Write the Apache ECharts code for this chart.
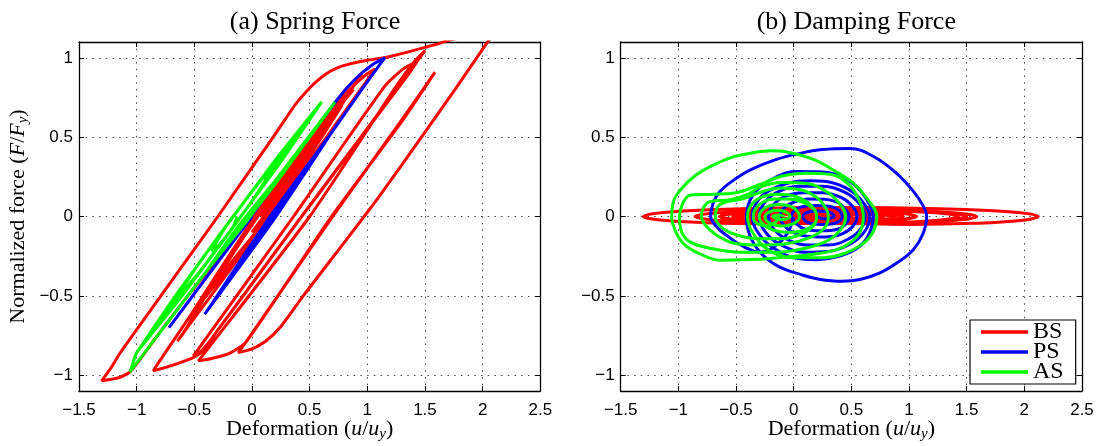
<!DOCTYPE html>
<html>
<head>
<meta charset="utf-8">
<script src="https://cdn.jsdelivr.net/npm/echarts@6/dist/echarts.min.js"></script>
<style>
html,body{margin:0;padding:0;background:#fff;}
#chart{width:1099px;height:446px;}
</style>
</head>
<body>
<div id="chart"></div>
<script>
// ---- axis settings / labels ----
const xRange = [-1.5, 2.5];
const yRange = [-1.1, 1.1];
const panelTitles = ['(a) Spring Force', '(b) Damping Force'];
const seriesNames = ['BS', 'PS', 'AS'];
const seriesColors = ['#ff0000', '#0000ff', '#00ff00'];

// ---- (a) spring force : [deformation, force] ----
const bsSpring = [
[0.08,0.0],[0.50,0.40],[0.80,0.73],[0.88,0.80],[0.80,0.73],[0.185,0.168],[-0.557,-0.50],[-0.85,-0.78],[-0.98,-0.91],[-1.058,-0.979],[-1.145,-1.014],[-1.304,-1.036],
[-1.22,-0.952],[-1.145,-0.862],[-0.79,-0.50],[-0.296,0.0],[0.185,0.502],[0.29,0.615],[0.38,0.71],[0.474,0.79],[0.56,0.852],[0.648,0.902],[0.75,0.94],[0.85,0.962],[1.0,0.985],[1.168,1.004],[1.62,1.09],[1.70,1.11],[2.12,1.17],
[2.035,1.092],[1.775,0.816],[1.081,0.105],[0.445,-0.50],[0.243,-0.70],[0.12,-0.785],[0.0,-0.835],[-0.119,-0.858],
[-0.06,-0.80],[0.70,0.0],[1.30,0.61],[1.587,0.91],
[1.30,0.60],[0.68,-0.01],[-0.05,-0.79],[-0.2,-0.865],[-0.35,-0.895],[-0.465,-0.91],
[-0.40,-0.85],[0.50,0.0],[1.25,0.82],[1.40,0.97],[1.50,1.046],
[1.44,0.986],[0.43,0.0],[-0.35,-0.77],[-0.45,-0.855],[-0.509,-0.879],
[-0.45,-0.82],[0.36,0.0],[1.15,0.82],[1.32,0.935],[1.428,0.973],
[1.36,0.90],[0.40,-0.03],[-0.30,-0.72],[-0.42,-0.845],[-0.509,-0.889],[-0.70,-0.94],[-0.856,-0.973],
[-0.80,-0.91],[0.05,0.0],[0.80,0.76],[0.98,0.89],[1.067,0.93],
[1.0,0.86],[0.15,0.0],[-0.55,-0.69],[-0.647,-0.785],
[-0.60,-0.74],[0.02,0.0],[0.80,0.79],[0.951,0.90],
[0.88,0.82],[0.15,0.0],[-0.53,-0.62],
[0.03,0.0],[0.78,0.70],
[0.15,0.0],[-0.43,-0.52],
[0.04,0.0],[0.65,0.55],
[0.14,0.0],[-0.33,-0.42],
[0.05,0.0],[0.50,0.40],
[0.12,0.0],[0.0,-0.10],
[0.30,0.20]
];
const psSpring = [
[0.0,0.0],[-0.36,-0.35],[-0.72,-0.70],[-0.35,-0.34],[0.0,0.01],[0.735,0.733],[0.90,0.87],[1.05,0.96],[1.153,1.0],
[1.10,0.95],[0.965,0.814],[0.243,0.063],[-0.41,-0.616],
[0.165,-0.044],[0.69,0.528],
[0.14,-0.018],[-0.36,-0.564],
[0.175,-0.034],[0.66,0.496],
[0.155,-0.003],[-0.30,-0.502],
[0.18,-0.024],[0.62,0.455],
[0.18,0.018],[-0.22,-0.419],
[0.185,-0.018],[0.55,0.382],
[0.20,0.034],[-0.12,-0.315],
[0.195,-0.003],[0.48,0.309],
[0.22,0.049],[-0.02,-0.21],
[0.21,0.018],[0.42,0.247],
[0.245,0.07],[0.08,-0.107],
[0.225,0.034],[0.35,0.174],
[0.2,0.018]
];
const asSpring = [
[-0.13,0.0],[-0.16,-0.06],[-0.27,-0.168],[-0.35,-0.218],
[-0.2425,-0.082],[0.0325,0.188],[0.2,0.324],
[0.01,0.107],[-0.43,-0.326],[-0.68,-0.543],
[-0.465,-0.301],[0.025,0.181],[0.3,0.423],
[0.055,0.152],[-0.495,-0.39],[-0.80,-0.661],
[-0.5175,-0.353],[0.1075,0.262],[0.45,0.570],
[0.12,0.216],[-0.60,-0.494],[-0.99,-0.848],
[-0.6215,-0.456],[0.1755,0.33],[0.604,0.722],
[0.233,0.327],[-0.569,-0.463],[-1.0,-0.858],[-1.03,-0.92],[-1.058,-0.979],
[-0.9,-0.828],[0.72,0.721],
[0.18,0.185],[-0.40,-0.35],[-0.12,-0.063],[0.2,0.224],[-0.03,-0.015],[-0.30,-0.254],[0.05,0.08],[-0.25,-0.207],[-0.03,0.004],[-0.18,-0.14],[-0.08,-0.044]
];

// ---- (b) damping force : [deformation, force] ----
const bsDamping = [
[0.08,0],[0.14,0.007],[0.28,0.012],[0.48,0.014],[0.68,0.012],[0.82,0.007],[0.88,0],
[0.734,-0.0225],[0.334,-0.039],[-0.212,-0.045],[-0.758,-0.039],[-1.158,-0.0225],[-1.304,0],
[-1.075,0.0285],[-0.448,0.049],[0.408,0.057],[1.264,0.049],[1.891,0.0285],[2.12,0],
[1.97,-0.025],[1.56,-0.043],[1.0,-0.05],[0.441,-0.043],[0.031,-0.025],[-0.119,0],
[-0.005,0.018],[0.3075,0.031],[0.734,0.036],[1.1605,0.031],[1.473,0.018],[1.587,0],
[1.45,-0.021],[1.074,-0.036],[0.561,-0.042],[0.048,-0.036],[-0.328,-0.021],[-0.465,0],
[-0.333,0.02],[0.026,0.035],[0.518,0.04],[1.009,0.035],[1.368,0.02],[1.5,0],
[1.365,-0.02],[0.998,-0.035],[0.496,-0.04],[-0.007,-0.035],[-0.374,-0.02],[-0.509,0],
[-0.379,0.019],[-0.025,0.033],[0.46,0.038],[0.944,0.033],[1.298,0.019],[1.428,0],
[1.275,-0.022],[0.857,-0.038],[0.286,-0.044],[-0.285,-0.038],[-0.703,-0.022],[-0.856,0],
[-0.727,0.019],[-0.375,0.033],[0.1055,0.038],[0.586,0.033],[0.938,0.019],[1.067,0],
[0.952,-0.017],[0.6385,-0.029],[0.21,-0.034],[-0.2185,-0.029],[-0.532,-0.017],[-0.647,0],
[-0.54,0.015],[-0.2475,0.026],[0.152,0.03],[0.5515,0.026],[0.844,0.015],[0.951,0],
[0.854,-0.0135],[0.586,-0.023],[0.21,-0.027],[-0.165,-0.023],[-0.432,-0.0135],[-0.53,0],
[-0.444,0.012],[-0.2,0.021],[0.125,0.024],[0.45,0.021],[0.692,0.012],[0.78,0],
[0.699,-0.0105],[0.477,-0.018],[0.175,-0.021],[-0.127,-0.018],[-0.349,-0.0105],[-0.43,0],
[-0.358,0.009],[-0.16,0.0156],[0.11,0.018],[0.38,0.0156],[0.578,0.009],[0.65,0],
[0.584,-0.008],[0.405,-0.014],[0.16,-0.016],[-0.085,-0.014],[-0.264,-0.008],[-0.33,0],
[-0.274,0.0065],[-0.122,0.011],[0.085,0.013],[0.292,0.011],[0.444,0.0065],[0.5,0],
[0.4665,-0.004],[0.375,-0.007],[0.25,-0.008],[0.125,-0.007],[0.0335,-0.004],[0,0],
[0.02,0.0025],[0.075,0.0043],[0.15,0.005],[0.225,0.0043],[0.28,0.0025],[0.3,0]
];
const psDamping = [
[0,0],[-0.05,-0.10],[-0.15,-0.18],[-0.29,-0.225],[-0.437,-0.188],[-0.58,-0.12],[-0.67,-0.063],[-0.72,0],
[-0.70,0.08],[-0.64,0.157],[-0.5,0.24],[-0.38,0.293],[-0.15,0.36],[0.055,0.398],[0.25,0.422],[0.488,0.429],[0.70,0.375],[0.892,0.272],[1.037,0.16],[1.12,0.07],[1.153,0],
[1.12,-0.11],[1.037,-0.209],[0.90,-0.29],[0.748,-0.355],[0.575,-0.397],[0.415,-0.408],[0.22,-0.395],[0.081,-0.37],[-0.133,-0.314],[-0.285,-0.23],[-0.38,-0.12],[-0.41,0],
[-0.38,0.1],[-0.30,0.18],[-0.15,0.25],[0.02,0.283],[0.2,0.282],[0.37,0.265],[0.52,0.205],[0.63,0.11],[0.69,0],
[0.66,-0.1],[0.57,-0.19],[0.40,-0.25],[0.2,-0.272],[0.0,-0.26],[-0.15,-0.21],[-0.28,-0.13],[-0.36,0],
[-0.32,0.09],[-0.22,0.16],[-0.05,0.21],[0.15,0.225],[0.35,0.21],[0.52,0.15],[0.62,0.07],[0.66,0],
[0.62,-0.09],[0.5,-0.17],[0.3,-0.22],[0.1,-0.225],[-0.08,-0.19],[-0.22,-0.12],[-0.30,0],
[-0.26,0.08],[-0.15,0.15],[0.05,0.19],[0.25,0.19],[0.45,0.15],[0.57,0.08],[0.62,0],
[0.585,-0.075],[0.48,-0.14],[0.3,-0.18],[0.12,-0.18],[-0.04,-0.15],[-0.16,-0.09],[-0.22,0],
[-0.18,0.07],[-0.08,0.125],[0.08,0.15],[0.25,0.15],[0.41,0.12],[0.51,0.065],[0.55,0],
[0.515,-0.06],[0.42,-0.11],[0.27,-0.13],[0.11,-0.125],[-0.02,-0.095],[-0.09,-0.05],[-0.12,0],
[-0.09,0.05],[0.0,0.09],[0.13,0.11],[0.27,0.108],[0.39,0.085],[0.45,0.045],[0.48,0],
[0.455,-0.045],[0.38,-0.08],[0.24,-0.09],[0.1,-0.08],[0.02,-0.045],[-0.02,0],
[0.01,0.04],[0.09,0.065],[0.2,0.07],[0.31,0.065],[0.39,0.04],[0.42,0],
[0.395,-0.03],[0.33,-0.047],[0.25,-0.05],[0.17,-0.047],[0.105,-0.03],[0.08,0],
[0.1,0.02],[0.15,0.032],[0.215,0.035],[0.28,0.032],[0.33,0.02],[0.35,0],
[0.31,-0.012],[0.275,-0.015],[0.24,-0.012],[0.2,0]
];
const asDamping = [
[-0.13,0],[-0.15,-0.03],[-0.2,-0.055],[-0.25,-0.06],[-0.3,-0.05],[-0.34,-0.03],[-0.35,0],
[-0.33,0.05],[-0.27,0.09],[-0.17,0.11],[-0.05,0.11],[0.08,0.09],[0.17,0.05],[0.2,0],
[0.17,-0.06],[0.07,-0.11],[-0.1,-0.14],[-0.3,-0.14],[-0.5,-0.115],[-0.63,-0.065],[-0.68,0],
[-0.66,0.06],[-0.6,0.09],[-0.45,0.11],[-0.3,0.15],[-0.12,0.18],[0.05,0.17],[0.2,0.12],[0.28,0.05],[0.3,0],
[0.27,-0.07],[0.15,-0.13],[-0.05,-0.17],[-0.3,-0.18],[-0.526,-0.167],[-0.65,-0.126],[-0.726,-0.084],[-0.78,-0.04],[-0.80,0],
[-0.78,0.06],[-0.72,0.095],[-0.55,0.105],[-0.40,0.14],[-0.285,0.188],[-0.1,0.215],[0.1,0.21],[0.3,0.15],[0.42,0.06],[0.45,0],
[0.42,-0.07],[0.3,-0.15],[0.1,-0.2],[-0.15,-0.225],[-0.45,-0.225],[-0.743,-0.197],[-0.9,-0.16],[-0.97,-0.1],[-0.99,0],
[-0.97,0.07],[-0.93,0.12],[-0.894,0.136],[-0.7,0.14],[-0.5,0.15],[-0.3,0.2],[-0.1,0.255],[0.1,0.272],[0.32,0.265],[0.48,0.2],[0.57,0.1],[0.604,0],
[0.58,-0.09],[0.5,-0.16],[0.373,-0.209],[0.15,-0.24],[-0.06,-0.255],[-0.3,-0.27],[-0.64,-0.275],[-0.813,-0.235],[-0.95,-0.175],[-1.02,-0.1],[-1.058,0],
[-1.04,0.1],[-0.957,0.188],[-0.85,0.26],[-0.726,0.314],[-0.55,0.37],[-0.379,0.398],[-0.2,0.414],[-0.05,0.405],[0.17,0.36],[0.35,0.29],[0.517,0.21],[0.64,0.11],[0.72,0],
[0.70,-0.08],[0.62,-0.16],[0.45,-0.23],[0.25,-0.26],[0.0,-0.26],[-0.2,-0.22],[-0.33,-0.13],[-0.40,0],
[-0.38,0.06],[-0.3,0.115],[-0.15,0.14],[0.0,0.13],[0.12,0.09],[0.18,0.045],[0.2,0],
[0.18,-0.045],[0.1,-0.085],[-0.05,-0.1],[-0.18,-0.085],[-0.27,-0.045],[-0.3,0],
[-0.28,0.035],[-0.22,0.065],[-0.125,0.075],[-0.03,0.065],[0.03,0.035],[0.05,0],
[0.03,-0.03],[-0.03,-0.052],[-0.1,-0.06],[-0.17,-0.052],[-0.23,-0.03],[-0.25,0],
[-0.23,0.02],[-0.19,0.035],[-0.14,0.04],[-0.09,0.035],[-0.05,0.02],[-0.03,0],
[-0.06,-0.015],[-0.105,-0.02],[-0.15,-0.015],[-0.18,0],
[-0.13,0.01],[-0.08,0]
];

// ---- build chart ----
const SERIF = 'Liberation Serif';
const SANS = 'Liberation Sans';
const minus = v => String(v).replace('-', '\u2212');
const richName = {
  i: {fontFamily: SERIF, fontStyle: 'italic', fontSize: 22, color: '#000', lineHeight: 26},
  s: {fontFamily: SERIF, fontStyle: 'italic', fontSize: 15, color: '#000', lineHeight: 12, verticalAlign: 'bottom'}
};
const nameStyle = {fontFamily: SERIF, fontSize: 22, color: '#000', lineHeight: 26, rich: richName};
const splitStyle = {show: true, lineStyle: {type: [1.5, 5.2], color: '#444', width: 1}};

function xAxisCfg(grid, pos, primary) {
  return {
    type: 'value', gridIndex: grid, position: pos, min: xRange[0], max: xRange[1], interval: 0.5,
    axisLine: {show: true, onZero: false, lineStyle: {color: '#000', width: 1.3}},
    axisTick: {show: true, inside: true, length: 5, lineStyle: {color: '#000', width: 1}},
    axisLabel: primary ? {show: true, margin: 11, fontFamily: SANS, fontSize: 17, color: '#000', formatter: minus} : {show: false},
    splitLine: primary ? splitStyle : {show: false},
    name: primary ? 'Deformation ({i|u}/{i|u}{s|y})' : '',
    nameLocation: 'middle', nameGap: 25, nameMoveOverlap: false, nameTextStyle: nameStyle
  };
}
function yAxisCfg(grid, pos, primary, withName) {
  return {
    type: 'value', gridIndex: grid, position: pos, min: yRange[0], max: yRange[1], splitNumber: 4,
    axisLine: {show: true, onZero: false, lineStyle: {color: '#000', width: 1.3}},
    axisTick: {show: true, inside: true, length: 5, lineStyle: {color: '#000', width: 1}},
    axisLabel: primary ? {show: true, margin: 6, fontFamily: SANS, fontSize: 17, color: '#000', formatter: minus, showMinLabel: false, showMaxLabel: false} : {show: false},
    splitLine: primary ? splitStyle : {show: false},
    name: withName ? 'Normalized force ({i|F}/{i|F}{s|y})' : '',
    nameLocation: 'middle', nameRotate: 90, nameGap: 48, nameMoveOverlap: false, nameTextStyle: nameStyle
  };
}
function lineSeries(nameIdx, data, axisIdx, smooth) {
  return {
    type: 'line', name: seriesNames[nameIdx], data: data,
    xAxisIndex: axisIdx, yAxisIndex: axisIdx,
    showSymbol: false, symbol: 'none', smooth: smooth, clip: true,
    lineStyle: {color: seriesColors[nameIdx], width: 3},
    itemStyle: {color: seriesColors[nameIdx]},
    z: 2 + nameIdx, animation: false
  };
}

const chart = echarts.init(document.getElementById('chart'), null, {renderer: 'canvas'});
chart.setOption({
  backgroundColor: '#fff',
  animation: false,
  title: [
    {text: panelTitles[0], left: 310, top: 4, textAlign: 'center', textStyle: {fontFamily: SERIF, fontSize: 26, fontWeight: 'normal', color: '#000'}},
    {text: panelTitles[1], left: 851.3, top: 4, textAlign: 'center', textStyle: {fontFamily: SERIF, fontSize: 26, fontWeight: 'normal', color: '#000'}}
  ],
  grid: [
    {left: 79, right: 558.7, top: 42, bottom: 55, containLabel: false, outerBoundsMode: 'none'},
    {left: 620.7, right: 17, top: 42, bottom: 55, containLabel: false, outerBoundsMode: 'none'}
  ],
  xAxis: [xAxisCfg(0, 'bottom', true), xAxisCfg(0, 'top', false), xAxisCfg(1, 'bottom', true), xAxisCfg(1, 'top', false)],
  yAxis: [yAxisCfg(0, 'left', true, true), yAxisCfg(0, 'right', false, false), yAxisCfg(1, 'left', true, false), yAxisCfg(1, 'right', false, false)],
  legend: {
    data: seriesNames, orient: 'vertical', left: 970, top: 320,
    itemWidth: 47, itemHeight: 3.5, itemGap: -4, icon: 'rect', selectedMode: false,
    padding: [0, 12, 0, 11], borderColor: '#000', borderWidth: 1.2, backgroundColor: '#fff',
    textStyle: {fontFamily: SERIF, fontSize: 24, color: '#000'}
  },
  series: [
    lineSeries(0, bsSpring, 0, 0.2),
    lineSeries(1, psSpring, 0, 0.2),
    lineSeries(2, asSpring, 0, 0.2),
    lineSeries(0, bsDamping, 2, 0.4),
    lineSeries(1, psDamping, 2, 0.4),
    lineSeries(2, asDamping, 2, 0.4)
  ]
});
</script>
</body>
</html>
